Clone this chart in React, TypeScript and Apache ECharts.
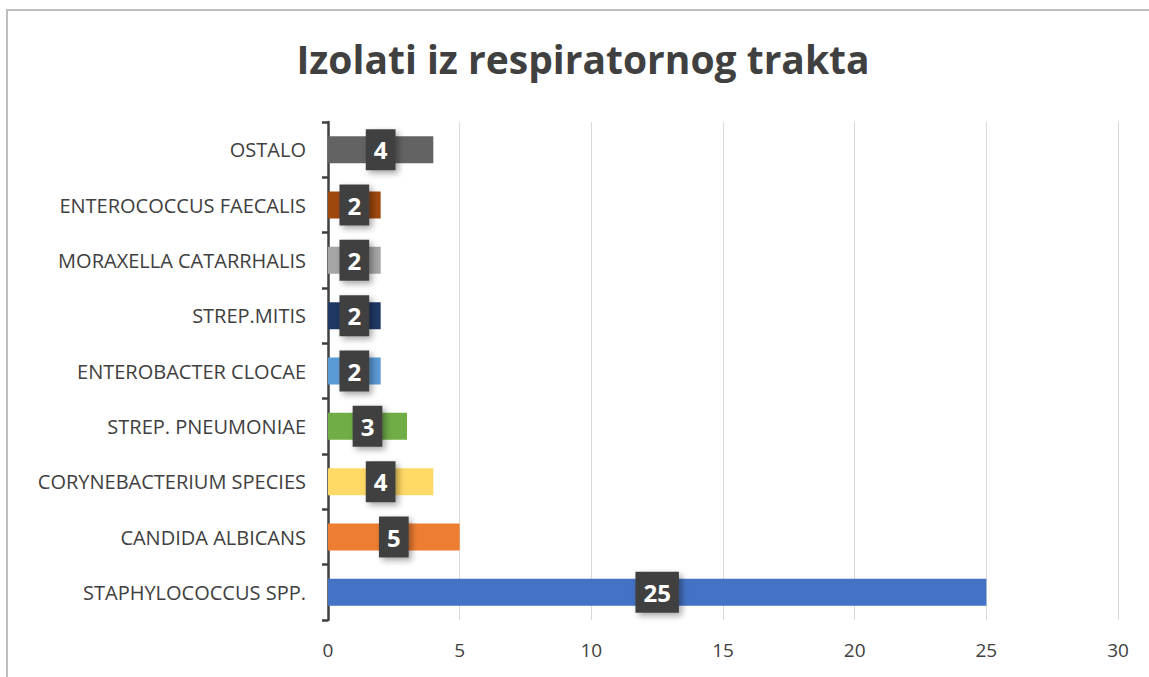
import React, { useEffect, useRef } from "react";
import * as echarts from "echarts";

const categories = [
  "STAPHYLOCOCCUS SPP.",
  "CANDIDA ALBICANS",
  "CORYNEBACTERIUM SPECIES",
  "STREP. PNEUMONIAE",
  "ENTEROBACTER CLOCAE",
  "STREP.MITIS",
  "MORAXELLA CATARRHALIS",
  "ENTEROCOCCUS FAECALIS",
  "OSTALO",
];
const values = [25, 5, 4, 3, 2, 2, 2, 2, 4];
const colors = [
  "#4472C4",
  "#ED7D31",
  "#FFD966",
  "#70AD47",
  "#5B9BD5",
  "#1F3864",
  "#A5A5A5",
  "#9E480E",
  "#636363",
];
const xTicks = { min: 0, max: 30, interval: 5 };
const title = "Izolati iz respiratornog trakta";

export default function App() {
  const ref = useRef<HTMLDivElement>(null);
  useEffect(() => {
    if (!ref.current) return;
    const chart = echarts.init(ref.current, undefined, { renderer: "svg" });
    chart.setOption({
      animation: false,
      backgroundColor: "#ffffff",
      title: {
        text: title,
        top: 34,
        left: 578,
        textAlign: "center",
        textStyle: {
          fontFamily: "Open Sans",
          fontWeight: "bold",
          fontSize: 39,
          color: "#404040",
        },
      },
      graphic: [
        {
          type: "rect",
          shape: { x: 7, y: 10, width: 1160, height: 700 },
          style: { fill: "none", stroke: "#bfbfbf", lineWidth: 2 },
          silent: true,
        },
      ],
      grid: { left: 328, right: 31, top: 122, bottom: 57 },
      xAxis: {
        type: "value",
        min: xTicks.min,
        max: xTicks.max,
        interval: xTicks.interval,
        axisLine: { show: false },
        axisTick: { show: false },
        splitLine: { lineStyle: { color: "#d9d9d9", width: 1 } },
        axisLabel: {
          margin: 20,
          fontFamily: "Open Sans",
          fontSize: 19,
          color: "#404040",
        },
      },
      yAxis: {
        type: "category",
        data: categories,
        axisLine: { lineStyle: { color: "#404040", width: 2.5 } },
        axisTick: {
          show: true,
          length: 6,
          inside: false,
          lineStyle: { color: "#404040", width: 2.5 },
        },
        axisLabel: {
          margin: 22,
          fontFamily: "Open Sans",
          fontSize: 20,
          color: "#404040",
        },
      },
      series: [
        {
          type: "bar",
          barWidth: 27,
          data: values.map((v, i) => ({
            value: v,
            itemStyle: { color: colors[i] },
          })),
          label: {
            show: true,
            position: "inside",
            fontFamily: "Open Sans",
            fontWeight: "bold",
            fontSize: 24,
            lineHeight: 26,
            color: "#ffffff",
            backgroundColor: "#404040",
            padding: [8, 8, 7, 8],
            shadowColor: "rgba(0,0,0,0.35)",
            shadowBlur: 6,
            shadowOffsetX: 3,
            shadowOffsetY: 3,
          },
        },
      ],
    });
    return () => chart.dispose();
  }, []);
  return (
    <div
      ref={ref}
      style={{ position: "fixed", left: 0, top: 0, width: 1149, height: 677 }}
    />
  );
}
